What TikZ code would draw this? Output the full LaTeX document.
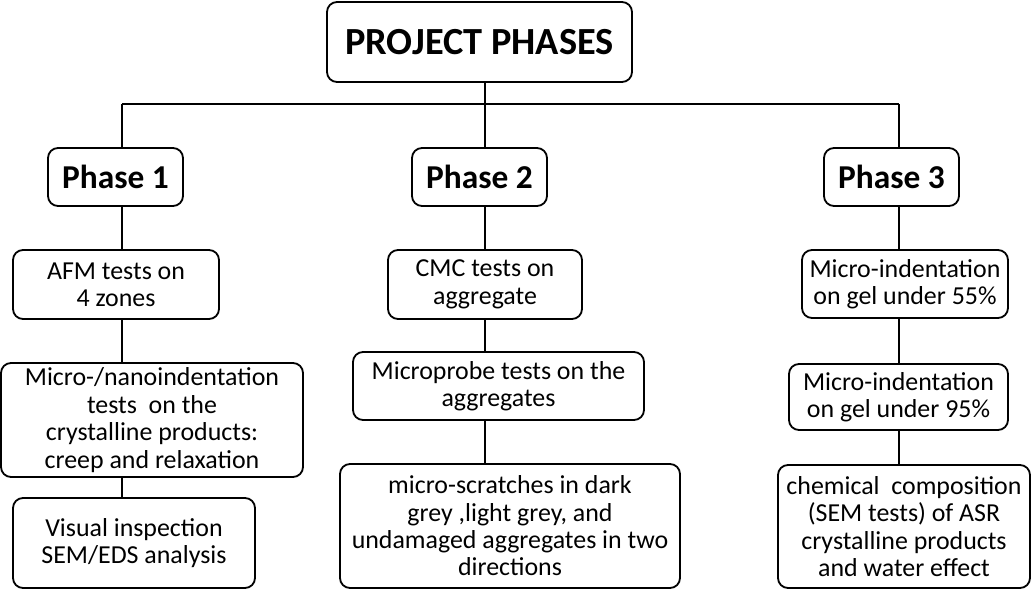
\documentclass[tikz,border=0pt]{standalone}
\usepackage{fontspec}
\setmainfont{Carlito}
\usetikzlibrary{positioning}
\tikzset{
  box/.style={
    rectangle, rounded corners=10bp, draw=black, line width=1.8bp,
    fill=white, align=center, inner sep=0pt,
    font=\fontsize{26}{27.5}\selectfont
  },
  headbox/.style={box, font=\bfseries\fontsize{38.5}{42}\selectfont},
  phasebox/.style={box, minimum width=135bp, minimum height=58bp,
    font=\bfseries\fontsize{33.5}{38}\selectfont},
  link/.style={line width=1.8bp, draw=black},
}
\begin{document}
\begin{tikzpicture}[x=1bp, y=-1bp]
  \useasboundingbox (0,0) rectangle (1032,590);

  % Top box
  \node[headbox, minimum width=305bp, minimum height=80bp] (top) at (479.5,42) {PROJECT PHASES};

  % Phases
  \node[phasebox] (p1) at (115.5,177) {Phase 1};
  \node[phasebox] (p2) at (479.5,177) {Phase 2};
  \node[phasebox] (p3) at (891.5,177) {Phase 3};

  % Phase 1 column
  \node[box, minimum width=206bp, minimum height=69bp] (afm) at (116,284.5)
    {AFM tests on\\4 zones};
  \node[box, minimum width=302bp, minimum height=114bp] (nano) at (152,420)
    {Micro-/nanoindentation\\tests\ \ on the\\crystalline products:\\creep and relaxation};
  \node[box, minimum width=242bp, minimum height=90bp] (visual) at (134,543)
    {Visual inspection\\SEM/EDS analysis};

  % Phase 2 column
  \node[box, minimum width=194bp, minimum height=69bp] (cmc) at (485,284.5)
    {CMC tests on\\aggregate};
  \node[box, minimum width=291bp, minimum height=68bp] (probe) at (498.5,386)
    {Microprobe tests on the\\aggregates};
  \node[box, minimum width=340bp, minimum height=124bp] (scratch) at (510,526)
    {micro-scratches in dark\\grey ,light grey, and\\undamaged aggregates in two\\directions};

  % Phase 3 column
  \node[box, minimum width=206bp, minimum height=68bp] (gel55) at (905,284)
    {Micro-indentation\\on gel under 55\%};
  \node[box, minimum width=219bp, minimum height=66bp] (gel95) at (898.5,397)
    {Micro-indentation\\on gel under 95\%};
  \node[box, minimum width=252bp, minimum height=123bp] (chem) at (904,526.5)
    {chemical\ \ composition\\(SEM tests) of ASR\\crystalline products\\and water effect};

  % Bus
  \coordinate (col1) at (122,104);
  \coordinate (col2) at (485,104);
  \coordinate (col3) at (899,104);
  \draw[link] (col1) -- (col3);
  \draw[link] (top.south -| col2) -- (p2.north -| col2);
  \draw[link] (col1) -- (p1.north -| col1);
  \draw[link] (col3) -- (p3.north -| col3);

  % Column connectors
  \foreach \a/\b in {p1/afm, afm/nano, nano/visual}
    \draw[link] (\a.south -| col1) -- (\b.north -| col1);
  \foreach \a/\b in {p2/cmc, cmc/probe, probe/scratch}
    \draw[link] (\a.south -| col2) -- (\b.north -| col2);
  \foreach \a/\b in {p3/gel55, gel55/gel95, gel95/chem}
    \draw[link] (\a.south -| col3) -- (\b.north -| col3);

\end{tikzpicture}
\end{document}
